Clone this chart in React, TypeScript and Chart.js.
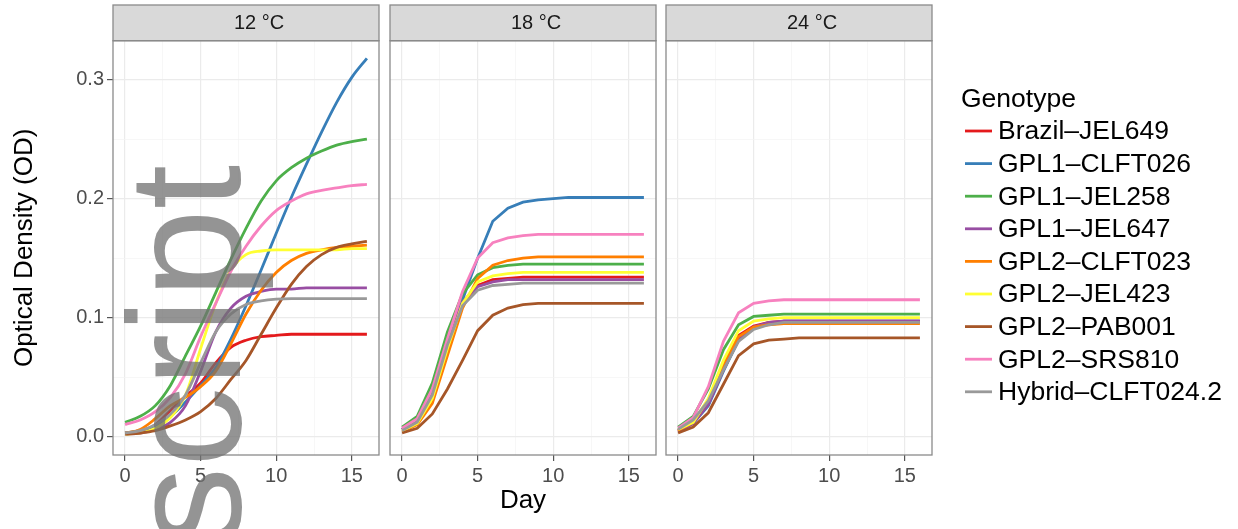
import React, { useEffect, useRef } from 'react';
import { Chart, registerables } from 'chart.js';

Chart.register(...registerables);

// ---------------- data ----------------
const days = [0, 1, 2, 3, 4, 5, 6, 7, 8, 9, 10, 11, 12, 13, 14, 15, 16];

const genotypes = [
  'Brazil–JEL649',
  'GPL1–CLFT026',
  'GPL1–JEL258',
  'GPL1–JEL647',
  'GPL2–CLFT023',
  'GPL2–JEL423',
  'GPL2–PAB001',
  'GPL2–SRS810',
  'Hybrid–CLFT024.2',
];

const genotypeColors = [
  '#E41A1C', '#377EB8', '#4DAF4A', '#984EA3', '#FF7F00',
  '#FFFF33', '#A65628', '#F781BF', '#999999',
];

const temperatures = ['12 °C', '18 °C', '24 °C'];

// rows follow the genotype order
const od12C = [
  [0.003, 0.004, 0.010, 0.022, 0.034, 0.045, 0.062, 0.075, 0.081, 0.084, 0.085, 0.086, 0.086, 0.086, 0.086, 0.086, 0.086],
  [0.003, 0.005, 0.009, 0.017, 0.029, 0.043, 0.058, 0.082, 0.110, 0.140, 0.171, 0.201, 0.229, 0.256, 0.281, 0.302, 0.318],
  [0.012, 0.017, 0.026, 0.043, 0.068, 0.093, 0.121, 0.149, 0.175, 0.198, 0.215, 0.226, 0.234, 0.240, 0.245, 0.248, 0.250],
  [0.002, 0.003, 0.006, 0.012, 0.026, 0.055, 0.088, 0.108, 0.118, 0.122, 0.124, 0.124, 0.125, 0.125, 0.125, 0.125, 0.125],
  [0.003, 0.006, 0.015, 0.026, 0.033, 0.042, 0.055, 0.078, 0.103, 0.123, 0.138, 0.148, 0.154, 0.157, 0.159, 0.160, 0.161],
  [0.002, 0.003, 0.007, 0.016, 0.035, 0.074, 0.112, 0.140, 0.153, 0.156, 0.157, 0.157, 0.157, 0.157, 0.157, 0.158, 0.158],
  [0.002, 0.003, 0.005, 0.009, 0.014, 0.021, 0.032, 0.048, 0.064, 0.086, 0.108, 0.128, 0.143, 0.153, 0.159, 0.162, 0.164],
  [0.010, 0.014, 0.021, 0.033, 0.053, 0.084, 0.112, 0.139, 0.160, 0.177, 0.190, 0.198, 0.204, 0.207, 0.209, 0.211, 0.212],
  [0.003, 0.005, 0.010, 0.019, 0.035, 0.062, 0.088, 0.103, 0.111, 0.114, 0.1155, 0.116, 0.116, 0.116, 0.116, 0.116, 0.116],
];

const od18C = [
  [0.006, 0.012, 0.035, 0.078, 0.113, 0.127, 0.132, 0.133, 0.134, 0.134, 0.134, 0.134, 0.134, 0.134, 0.134, 0.134, 0.134],
  [0.006, 0.013, 0.035, 0.075, 0.115, 0.150, 0.181, 0.192, 0.197, 0.199, 0.200, 0.201, 0.201, 0.201, 0.201, 0.201, 0.201],
  [0.008, 0.017, 0.045, 0.088, 0.120, 0.136, 0.142, 0.144, 0.145, 0.145, 0.145, 0.145, 0.145, 0.145, 0.145, 0.145, 0.145],
  [0.006, 0.013, 0.037, 0.080, 0.113, 0.126, 0.130, 0.132, 0.132, 0.132, 0.132, 0.132, 0.132, 0.132, 0.132, 0.132, 0.132],
  [0.004, 0.010, 0.028, 0.068, 0.108, 0.133, 0.144, 0.148, 0.150, 0.151, 0.151, 0.151, 0.151, 0.151, 0.151, 0.151, 0.151],
  [0.005, 0.011, 0.032, 0.074, 0.112, 0.130, 0.135, 0.137, 0.138, 0.138, 0.138, 0.138, 0.138, 0.138, 0.138, 0.138, 0.138],
  [0.003, 0.007, 0.019, 0.040, 0.064, 0.089, 0.102, 0.108, 0.111, 0.112, 0.112, 0.112, 0.112, 0.112, 0.112, 0.112, 0.112],
  [0.007, 0.015, 0.040, 0.082, 0.122, 0.150, 0.163, 0.167, 0.169, 0.170, 0.170, 0.170, 0.170, 0.170, 0.170, 0.170, 0.170],
  [0.005, 0.012, 0.035, 0.077, 0.110, 0.123, 0.127, 0.128, 0.129, 0.129, 0.129, 0.129, 0.129, 0.129, 0.129, 0.129, 0.129],
];

const od24C = [
  [0.004, 0.011, 0.030, 0.060, 0.085, 0.093, 0.096, 0.097, 0.097, 0.097, 0.097, 0.097, 0.097, 0.097, 0.097, 0.097, 0.097],
  [0.005, 0.011, 0.026, 0.055, 0.081, 0.091, 0.095, 0.097, 0.097, 0.097, 0.097, 0.097, 0.097, 0.097, 0.097, 0.097, 0.097],
  [0.008, 0.017, 0.040, 0.073, 0.094, 0.101, 0.102, 0.103, 0.103, 0.103, 0.103, 0.103, 0.103, 0.103, 0.103, 0.103, 0.103],
  [0.005, 0.011, 0.027, 0.056, 0.082, 0.092, 0.096, 0.097, 0.097, 0.097, 0.097, 0.097, 0.097, 0.097, 0.097, 0.097, 0.097],
  [0.005, 0.012, 0.031, 0.061, 0.084, 0.092, 0.094, 0.095, 0.095, 0.095, 0.095, 0.095, 0.095, 0.095, 0.095, 0.095, 0.095],
  [0.006, 0.012, 0.032, 0.064, 0.089, 0.097, 0.099, 0.100, 0.100, 0.100, 0.100, 0.100, 0.100, 0.100, 0.100, 0.100, 0.100],
  [0.003, 0.008, 0.020, 0.044, 0.068, 0.078, 0.081, 0.082, 0.083, 0.083, 0.083, 0.083, 0.083, 0.083, 0.083, 0.083, 0.083],
  [0.007, 0.016, 0.042, 0.080, 0.104, 0.112, 0.114, 0.115, 0.115, 0.115, 0.115, 0.115, 0.115, 0.115, 0.115, 0.115, 0.115],
  [0.006, 0.014, 0.030, 0.056, 0.080, 0.090, 0.094, 0.096, 0.096, 0.096, 0.096, 0.096, 0.096, 0.096, 0.096, 0.096, 0.096],
];

const panelData = [od12C, od18C, od24C];

const xTickValues = [0, 5, 10, 15];
const xTickLabels = ['0', '5', '10', '15'];
const xMinorValues = [2.5, 7.5, 12.5];
const yTickValues = [0, 0.1, 0.2, 0.3];
const yTickLabels = ['0.0', '0.1', '0.2', '0.3'];
const yMinorValues = [0.05, 0.15, 0.25];

const X_MIN = -0.8;
const X_MAX = 16.8;
const Y_MIN = -0.0155;
const Y_MAX = 0.3328;

// ---------------- layout ----------------
const W = 1238;
const H = 529;
const FONT = '"Liberation Sans", Arial, Helvetica, sans-serif';
const panelLefts = [113, 390, 666];
const panelRights = [379, 656, 932];
const panelTop = 40.7;
const panelBottom = 455;
const stripTop = 5;

const findIdx = (arr: number[], v: number) => arr.findIndex((t) => Math.abs(t - v) < 1e-9);

function makeConfig(p: number): any {
  const first = p === 0;
  const middle = p === 1;
  const last = p === 2;
  const yAxisWidth = first ? panelLefts[0] : 6;
  const padLeft = panelLefts[p] - yAxisWidth;

  const datasets = genotypes.map((g, i) => ({
    label: g,
    data: days.map((d, j) => ({ x: d, y: panelData[p][i][j] })),
    borderColor: genotypeColors[i],
    backgroundColor: genotypeColors[i],
    borderWidth: 2.8,
    pointRadius: 0,
    pointHoverRadius: 0,
    fill: false,
    tension: first ? 0.4 : 0,
    cubicInterpolationMode: first ? 'monotone' : 'default',
    order: genotypes.length - i,
  }));

  const decor = {
    id: 'panelDecor' + p,
    afterDraw(chart: any) {
      const ctx = chart.ctx;
      const a = chart.chartArea;
      ctx.save();
      // strip
      ctx.fillStyle = '#d9d9d9';
      ctx.fillRect(a.left, stripTop, a.right - a.left, a.top - stripTop);
      ctx.strokeStyle = '#8a8a8a';
      ctx.lineWidth = 1.3;
      ctx.strokeRect(a.left, stripTop, a.right - a.left, a.top - stripTop);
      ctx.fillStyle = '#1a1a1a';
      ctx.font = `20px ${FONT}`;
      ctx.textAlign = 'center';
      ctx.textBaseline = 'middle';
      ctx.fillText(temperatures[p], (a.left + a.right) / 2 + 13, (stripTop + a.top) / 2 + 1);
      // panel border
      ctx.strokeStyle = '#8a8a8a';
      ctx.lineWidth = 1.3;
      ctx.strokeRect(a.left, a.top, a.right - a.left, a.bottom - a.top);
      // legend
      if (last) {
        ctx.textAlign = 'left';
        ctx.textBaseline = 'alphabetic';
        ctx.fillStyle = '#000';
        ctx.font = `26.5px ${FONT}`;
        ctx.fillText('Genotype', 961, 107);
        ctx.font = `26.5px ${FONT}`;
        ctx.textBaseline = 'middle';
        chart.data.datasets.forEach((ds: any, i: number) => {
          const y = 131 + i * 32.6;
          ctx.strokeStyle = ds.borderColor;
          ctx.lineWidth = 2.8;
          ctx.beginPath();
          ctx.moveTo(965, y);
          ctx.lineTo(992, y);
          ctx.stroke();
          ctx.fillStyle = '#000';
          ctx.fillText(ds.label, 998, y + 1);
        });
      }
      ctx.restore();
    },
  };

  const gridColor = (major: boolean) => (major ? '#ebebeb' : '#f3f3f3');

  return {
    type: 'line',
    data: { datasets },
    plugins: [decor],
    options: {
      animation: false,
      responsive: false,
      maintainAspectRatio: false,
      events: [],
      layout: { padding: { left: padLeft, right: W - panelRights[p], top: panelTop, bottom: 0 } },
      plugins: { legend: { display: false }, tooltip: { enabled: false }, title: { display: false } },
      scales: {
        x: {
          type: 'linear',
          min: X_MIN,
          max: X_MAX,
          afterBuildTicks: (s: any) => {
            s.ticks = [...xTickValues, ...xMinorValues].sort((a, b) => a - b).map((v) => ({ value: v }));
          },
          afterFit: (s: any) => {
            s.height = H - panelBottom;
          },
          ticks: {
            autoSkip: false,
            maxRotation: 0,
            minRotation: 0,
            padding: 3,
            color: '#4d4d4d',
            font: { size: 20, family: FONT },
            callback: (v: number) => {
              const k = findIdx(xTickValues, v);
              return k >= 0 ? xTickLabels[k] : '';
            },
          },
          grid: {
            drawTicks: true,
            tickLength: 6,
            color: (c: any) => gridColor(findIdx(xTickValues, c.tick.value) >= 0),
            lineWidth: (c: any) => (findIdx(xTickValues, c.tick.value) >= 0 ? 1.2 : 0.7),
            tickColor: (c: any) => (findIdx(xTickValues, c.tick.value) >= 0 ? '#555555' : 'rgba(0,0,0,0)'),
            tickWidth: 1.2,
          },
          border: { display: false },
          title: {
            display: middle,
            text: 'Day',
            color: '#000',
            font: { size: 26, family: FONT },
            padding: { top: 0, bottom: 13 },
          },
        },
        y: {
          type: 'linear',
          min: Y_MIN,
          max: Y_MAX,
          afterBuildTicks: (s: any) => {
            s.ticks = [...yTickValues, ...yMinorValues].sort((a, b) => a - b).map((v) => ({ value: v }));
          },
          afterFit: (s: any) => {
            s.width = yAxisWidth;
          },
          ticks: {
            display: first,
            autoSkip: false,
            padding: 3,
            color: '#4d4d4d',
            font: { size: 20, family: FONT },
            callback: (v: number) => {
              const k = findIdx(yTickValues, v);
              return k >= 0 ? yTickLabels[k] : '';
            },
          },
          grid: {
            drawTicks: first,
            tickLength: 6,
            color: (c: any) => gridColor(findIdx(yTickValues, c.tick.value) >= 0),
            lineWidth: (c: any) => (findIdx(yTickValues, c.tick.value) >= 0 ? 1.2 : 0.7),
            tickColor: (c: any) => (findIdx(yTickValues, c.tick.value) >= 0 ? '#555555' : 'rgba(0,0,0,0)'),
            tickWidth: 1.2,
          },
          border: { display: false },
          title: {
            display: first,
            text: 'Optical Density (OD)',
            color: '#000',
            font: { size: 26, family: FONT },
            padding: { top: 9, bottom: 0 },
          },
        },
      },
    },
  };
}

function Panel({ index }: { index: number }) {
  const ref = useRef<HTMLCanvasElement | null>(null);
  useEffect(() => {
    if (!ref.current) return;
    const chart = new Chart(ref.current, makeConfig(index));
    return () => chart.destroy();
  }, [index]);
  return (
    <canvas
      ref={ref}
      width={W}
      height={H}
      style={{ position: 'absolute', left: 0, top: 0, width: W, height: H }}
    />
  );
}

export default function App() {
  useEffect(() => {
    document.body.style.margin = '0';
    document.body.style.background = '#fff';
  }, []);
  return (
    <div
      style={{
        position: 'fixed',
        left: 0,
        top: 0,
        width: W,
        height: H,
        overflow: 'hidden',
        background: '#fff',
      }}
    >
      <Panel index={0} />
      <Panel index={1} />
      <Panel index={2} />
      <div
        style={{
          position: 'absolute',
          left: 104.6,
          top: 547,
          transformOrigin: '0 0',
          transform: 'rotate(-90deg)',
          fontFamily: FONT,
          fontSize: 160,
          lineHeight: 1,
          whiteSpace: 'nowrap',
          color: 'rgba(112,112,112,0.75)',
          pointerEvents: 'none',
        }}
      >
        script
      </div>
    </div>
  );
}
